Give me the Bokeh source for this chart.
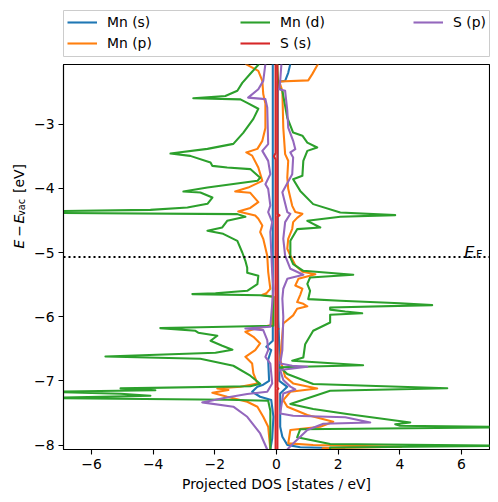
import math
from bokeh.plotting import figure
from bokeh.models import Range1d, FixedTicker, Span, Label, Legend, LegendItem
from bokeh.layouts import column, row
from bokeh.embed import file_html
from bokeh.resources import INLINE

# ---------------- data (energy [eV], projected DOS [states/eV]) ----------------
e_fermi = -5.07
x_limits = (-6.91, 6.91)
y_limits = (e_fermi - 3.0, e_fermi + 3.0)

x_ticks = [-6, -4, -2, 0, 2, 4, 6]
x_tick_labels = ["\u22126", "\u22124", "\u22122", "0", "2", "4", "6"]
y_ticks = [-8, -7, -6, -5, -4, -3]
y_tick_labels = ["\u22128", "\u22127", "\u22126", "\u22125", "\u22124", "\u22123"]

labels = ["Mn (s)", "Mn (p)", "Mn (d)", "S (s)", "S (p)"]
colors = ["#1f77b4", "#ff7f0e", "#2ca02c", "#d62728", "#9467bd"]

mn_s_up = [(-2.06, 0.45), (-2.2, 0.38), (-2.325, 0.28), (-2.34, 0.04), (-4.19, 0.04),
           (-6.06, 0.06), (-6.6, 0.10), (-7.0, 0.09), (-7.093, 0.35), (-7.196, 0.12),
           (-7.715, 0.12), (-7.87, 0.19), (-7.998, 0.35), (-8.035, 0.77), (-8.05, 2.2),
           (-8.07, 1.6)]
mn_s_down = [(-2.06, -0.12), (-6.375, -0.12), (-6.47, -0.33), (-6.52, -0.17), (-6.67, -0.27),
             (-7.0, -0.24), (-7.06, -0.43), (-7.093, -0.62), (-7.17, -0.79), (-7.248, -0.53),
             (-7.30, -0.17), (-7.56, -0.10), (-7.9, -0.14), (-8.07, -0.20)]

mn_p_up = [(-2.06, 1.35), (-2.22, 1.16), (-2.318, 1.03), (-2.336, 0.09), (-2.48, 0.19),
           (-3.053, 0.22), (-3.467, 0.28), (-3.57, 0.38), (-3.83, 0.35), (-4.008, 0.38),
           (-4.273, 0.51), (-4.37, 0.61), (-4.397, 0.84), (-4.46, 0.67), (-4.527, 0.54),
           (-4.63, 0.51), (-4.787, 0.38), (-4.942, 0.35), (-5.047, 0.45), (-5.20, 0.61),
           (-5.30, 0.84), (-5.34, 1.26), (-5.38, 0.93), (-5.41, 0.71), (-5.514, 0.61),
           (-5.565, 0.84), (-5.66, 0.77), (-5.773, 0.67), (-5.80, 0.87), (-5.838, 1.00),
           (-5.877, 0.67), (-5.98, 0.54), (-6.106, 0.22), (-6.676, 0.12), (-6.78, 0.19),
           (-6.936, 0.28), (-7.04, 0.54), (-7.118, 1.32), (-7.17, 0.45), (-7.30, 0.22),
           (-7.404, 0.35), (-7.533, 1.00), (-7.637, 1.84), (-7.715, 1.42), (-7.766, 0.45),
           (-7.975, 0.38), (-8.0, 1.19), (-8.027, 4.05), (-8.05, 1.5), (-8.07, 1.5)]
mn_p_down = [(-2.06, -1.01), (-2.17, -0.59), (-2.325, -0.46), (-2.53, -0.43), (-2.68, -0.36),
             (-3.06, -0.36), (-3.26, -0.46), (-3.385, -0.62), (-3.44, -0.98), (-3.49, -0.79),
             (-3.676, -0.59), (-3.883, -0.46), (-3.988, -0.92), (-4.05, -1.34), (-4.07, -0.85),
             (-4.215, -0.59), (-4.305, -0.85), (-4.361, -1.24), (-4.424, -0.69), (-4.475, -0.59),
             (-4.58, -0.46), (-4.68, -0.53), (-4.787, -0.43), (-5.05, -0.30), (-5.30, -0.27),
             (-5.565, -0.20), (-5.636, -0.33), (-5.66, -0.46), (-5.69, -0.10), (-6.126, -0.14),
             (-6.19, -0.69), (-6.235, -1.01), (-6.313, -0.75), (-6.417, -0.53), (-6.52, -0.69),
             (-6.625, -1.01), (-6.73, -0.79), (-6.885, -0.75), (-7.04, -0.62), (-7.093, -1.17),
             (-7.118, -1.92), (-7.143, -1.56), (-7.185, -2.08), (-7.248, -1.60), (-7.325, -0.95),
             (-7.403, -0.62), (-7.56, -0.43), (-7.715, -0.27), (-8.07, -0.20)]

mn_d_up = [(-2.06, 0.02), (-2.42, 0.06), (-2.48, 0.19), (-2.90, 0.35), (-3.13, 0.54),
           (-3.18, 0.84), (-3.287, 1.00), (-3.364, 1.32), (-3.416, 1.00), (-3.572, 0.87),
           (-3.805, 0.84), (-3.857, 0.54), (-4.04, 0.77), (-4.246, 1.19), (-4.377, 2.07),
           (-4.417, 3.85), (-4.444, 2.07), (-4.506, 1.00), (-4.61, 1.42), (-4.636, 0.67),
           (-4.818, 0.45), (-5.08, 0.45), (-5.18, 0.54), (-5.285, 0.87), (-5.347, 2.49),
           (-5.39, 1.09), (-5.49, 1.00), (-5.597, 1.09), (-5.726, 1.03), (-5.753, 2.07),
           (-5.79, 4.01), (-5.82, 5.05), (-5.857, 1.74), (-5.89, 1.74), (-5.92, 2.23),
           (-5.947, 2.78), (-5.97, 1.74), (-6.09, 1.74), (-6.22, 1.19), (-6.43, 0.93),
           (-6.636, 0.87), (-6.687, 0.51), (-6.757, 2.81), (-6.788, 0.12), (-6.894, 0.35),
           (-7.05, 1.19), (-7.115, 5.54), (-7.154, 1.74), (-7.36, 0.45), (-7.44, 1.19),
           (-7.517, 2.29), (-7.648, 4.34), (-7.676, 3.85), (-7.70, 4.01), (-7.723, 7.9),
           (-7.754, 0.77), (-7.88, 0.67), (-7.984, 1.74), (-8.011, 7.9), (-8.04, 1.74),
           (-8.07, 1.74)]
mn_d_down = [(-2.06, -0.56), (-2.215, -0.85), (-2.357, -1.11), (-2.48, -1.27), (-2.56, -1.66),
             (-2.595, -2.70), (-2.614, -1.17), (-2.668, -0.95), (-2.76, -0.59), (-2.917, -0.75),
             (-3.135, -1.08), (-3.307, -1.40), (-3.385, -2.24), (-3.458, -3.44), (-3.494, -2.80),
             (-3.598, -2.14), (-3.65, -2.08), (-3.676, -1.60), (-3.70, -0.85), (-3.836, -0.53),
             (-3.883, -0.62), (-3.988, -2.24), (-4.05, -3.02), (-4.065, -2.47), (-4.143, -2.08),
             (-4.241, -2.24), (-4.299, -2.89), (-4.335, -4.09), (-4.358, -7.6), (-4.382, -7.6),
             (-4.402, -1.27), (-4.444, -1.01), (-4.506, -1.60), (-4.61, -1.76), (-4.662, -2.24),
             (-4.709, -1.73), (-4.818, -1.27), (-5.0, -1.11), (-5.13, -1.01), (-5.238, -0.95),
             (-5.316, -0.95), (-5.363, -0.59), (-5.492, -0.62), (-5.597, -0.95), (-5.636, -1.98),
             (-5.648, -2.73), (-5.667, -0.53), (-5.69, -0.10), (-6.142, -0.10), (-6.165, -2.47),
             (-6.178, -3.77), (-6.22, -2.63), (-6.25, -2.54), (-6.297, -1.92), (-6.375, -2.14),
             (-6.453, -1.76), (-6.515, -1.43), (-6.562, -1.98), (-6.62, -5.55), (-6.656, -2.47),
             (-6.765, -1.40), (-6.92, -0.85), (-7.045, -0.53), (-7.084, -0.85), (-7.118, -5.06),
             (-7.146, -3.93), (-7.17, -7.6), (-7.2, -5.06), (-7.232, -4.09), (-7.268, -7.6),
             (-7.294, -1.60), (-7.31, -0.27), (-7.466, -0.20), (-8.07, -0.20)]

s_s_up = [(-2.06, 0.03), (-4.40, 0.03), (-4.42, 0.10), (-4.44, 0.03), (-6.18, 0.03),
          (-6.19, 0.06), (-6.20, 0.03), (-7.10, 0.03), (-7.12, 0.06), (-7.14, 0.03), (-8.07, 0.03)]
s_s_down = [(-2.06, -0.03), (-3.45, -0.03), (-3.50, -0.08), (-3.55, -0.03), (-8.07, -0.03)]

s_p_up = [(-2.06, 0.16), (-2.325, 0.12), (-2.455, 0.09), (-2.48, 0.28), (-2.79, 0.35),
          (-3.053, 0.38), (-3.26, 0.54), (-3.39, 0.61), (-3.44, 0.45), (-3.52, 0.54),
          (-3.78, 0.51), (-4.06, 0.19), (-4.37, 0.35), (-4.397, 0.45), (-4.527, 0.28),
          (-4.787, 0.22), (-5.047, 0.28), (-5.254, 0.45), (-5.347, 0.87), (-5.41, 0.35),
          (-5.565, 0.22), (-5.72, 0.19), (-6.0, 0.22), (-6.52, 0.19), (-6.73, 0.12),
          (-6.766, 0.51), (-6.78, 1.00), (-6.83, 0.12), (-6.987, 0.22), (-7.09, 0.45),
          (-7.134, 0.61), (-7.196, 0.22), (-7.508, 0.12), (-7.544, 0.54), (-7.567, 2.23),
          (-7.648, 3.04), (-7.668, 1.52), (-7.766, 1.00), (-7.975, 0.54), (-8.07, 0.35)]
s_p_down = [(-2.06, -0.36), (-2.325, -0.43), (-2.455, -0.59), (-2.586, -0.92), (-2.61, -0.36),
            (-2.74, -0.30), (-3.31, -0.27), (-3.416, -0.46), (-3.572, -0.27), (-3.779, -0.20),
            (-3.935, -0.36), (-4.008, -0.27), (-4.268, -0.20), (-4.37, -0.27), (-4.527, -0.14),
            (-4.68, -0.20), (-5.305, -0.14), (-5.565, -0.10), (-6.157, -0.20), (-6.184, -1.01),
            (-6.21, -0.43), (-6.364, -0.30), (-6.52, -0.27), (-6.625, -0.36), (-6.73, -0.20),
            (-7.04, -0.14), (-7.17, -0.30), (-7.206, -0.95), (-7.263, -1.66), (-7.336, -2.41),
            (-7.403, -1.40), (-7.56, -0.95), (-7.82, -0.53), (-8.07, -0.30)]

series = [
    (mn_s_up, mn_s_down),
    (mn_p_up, mn_p_down),
    (mn_d_up, mn_d_down),
    (s_s_up, s_s_down),
    (s_p_up, s_p_down),
]

FONT = "DejaVu Sans"
FS = "13.9px"
LW = 2.08

# ---------------- main plot ----------------
p = figure(width=460, height=436, output_backend="svg", toolbar_location=None,
           x_range=Range1d(*x_limits), y_range=Range1d(*y_limits),
           min_border_left=33, min_border_right=1, min_border_top=1, min_border_bottom=50)
p.grid.visible = False
p.outline_line_color = "black"
p.outline_line_width = 1.1
p.background_fill_color = "white"

for (up, down), c in zip(series, colors):
    for curve in (up, down):
        p.line([v for _, v in curve], [e for e, _ in curve], line_color=c,
               line_width=LW, line_join="round")

p.add_layout(Span(location=e_fermi, dimension="width", line_color="black",
                  line_width=LW, line_dash="2 3"))

for ax, ticks, tlabels in ((p.xaxis[0], x_ticks, x_tick_labels), (p.yaxis[0], y_ticks, y_tick_labels)):
    ax.ticker = FixedTicker(ticks=ticks)
    ax.major_label_overrides = {t: l for t, l in zip(ticks, tlabels)}
    ax.minor_tick_line_color = None
    ax.major_tick_in = 0
    ax.major_tick_out = 5
    ax.major_tick_line_width = 1.1
    ax.major_tick_line_color = "black"
    ax.axis_line_color = "black"
    ax.axis_line_width = 1.1
    ax.major_label_text_font = FONT
    ax.major_label_text_font_size = FS
    ax.major_label_text_color = "black"
    ax.major_label_standoff = 4

p.xaxis.axis_label = "Projected DOS [states / eV]"
p.xaxis.axis_label_text_font = FONT
p.xaxis.axis_label_text_font_size = FS
p.xaxis.axis_label_text_font_style = "normal"
p.xaxis.axis_label_text_color = "black"
p.xaxis.axis_label_standoff = 4

# E_F marker text
p.add_layout(Label(x=400.7, y=197.3, x_units="screen", y_units="screen", text="E",
                   text_align="left", text_baseline="alphabetic", text_font=FONT,
                   text_font_style="italic", text_font_size="16px", text_color="black"))
p.add_layout(Label(x=412.5, y=195.2, x_units="screen", y_units="screen", text="F",
                   text_align="left", text_baseline="alphabetic", text_font=FONT,
                   text_font_size="11.2px", text_color="black"))

# ---------------- y-axis label strip: E − E_vac [eV] ----------------
yl = figure(width=30, height=436, output_backend="svg", toolbar_location=None,
            x_range=Range1d(0, 1), y_range=Range1d(0, 1),
            x_axis_type=None, y_axis_type=None,
            min_border_left=0, min_border_right=0, min_border_top=0, min_border_bottom=0)
yl.grid.visible = False
yl.outline_line_color = None

ylabel_parts = [
    ("E", "italic", FS, 18.3, 205.5),
    ("\u2212", "normal", FS, 18.3, 218.5),
    ("E", "italic", FS, 18.3, 230.3),
    ("vac", "normal", "9.7px", 20.7, 242.0),
    ("[eV]", "normal", FS, 18.3, 271.0),
]
for txt, style, size, sx, sy in ylabel_parts:
    yl.add_layout(Label(x=sx, y=sy, x_units="screen", y_units="screen", text=txt,
                        angle=math.pi / 2, text_align="center", text_baseline="alphabetic",
                        text_font=FONT, text_font_style=style, text_font_size=size,
                        text_color="black"))

# ---------------- legend panel ----------------
lg = figure(width=490, height=63, output_backend="svg", toolbar_location=None,
            x_range=Range1d(0, 1), y_range=Range1d(0, 1),
            x_axis_type=None, y_axis_type=None,
            min_border_left=63, min_border_right=1, min_border_top=10, min_border_bottom=7)
lg.grid.visible = False
lg.outline_line_color = "#cccccc"
lg.outline_line_width = 1

# legend handles: lines kept outside the visible range, only their legend glyphs show
handles = [lg.line([5, 6], [5, 6], line_color=c, line_width=LW) for c in colors]

def make_row(idx, loc):
    leg = Legend(items=[LegendItem(label=labels[i], renderers=[handles[i]]) for i in idx],
                 orientation="horizontal", location=loc, padding=0, margin=0,
                 spacing=73, glyph_width=30, glyph_height=20, label_width=60,
                 label_height=20, label_standoff=10, border_line_color=None,
                 background_fill_alpha=0, label_text_font=FONT, label_text_font_size=FS,
                 label_text_color="black", label_text_baseline="middle")
    lg.add_layout(leg)

make_row([0, 2, 4], (4, 24))
make_row([1, 3], (4, 3))

layout = column(lg, row(yl, p, spacing=0), spacing=0)
open("out.html", "w").write(file_html(layout, INLINE))
